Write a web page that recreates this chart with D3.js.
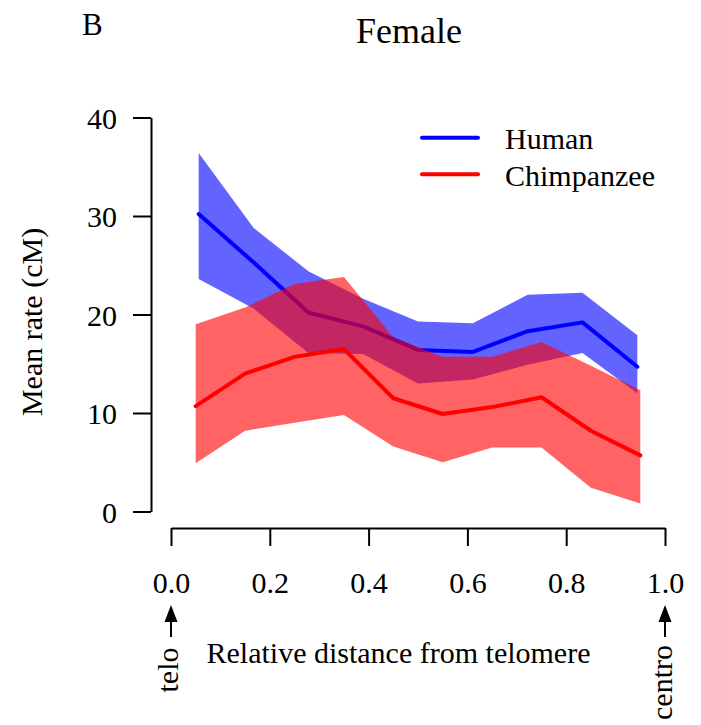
<!DOCTYPE html>
<html lang="en">
<head>
<meta charset="UTF-8">
<title>Female</title>
<script src="https://cdn.jsdelivr.net/npm/d3@7/dist/d3.min.js"></script>
<style>
  body { margin: 0; background: #fff; }
  text { font-family: "Liberation Serif", "Times New Roman", serif; fill: #000; }
</style>
</head>
<body>
<div id="chart"></div>
<script>
// bin midpoints (relative distance from telomere)
const humanX = [0.056, 0.167, 0.278, 0.389, 0.5, 0.611, 0.722, 0.833, 0.944];
const humanMean = [30.2, 25.3, 20.2, 18.8, 16.4, 16.2, 18.3, 19.2, 14.7];
const humanUpper = [36.4, 28.8, 24.4, 21.6, 19.3, 19.1, 22.0, 22.2, 17.9];
const humanLower = [23.6, 20.6, 16.1, 16.0, 13.0, 13.4, 14.9, 16.1, 12.0];

const chimpX = [0.05, 0.15, 0.25, 0.35, 0.45, 0.55, 0.65, 0.75, 0.85, 0.95];
const chimpMean = [10.7, 14.0, 15.7, 16.5, 11.5, 9.9, 10.6, 11.6, 8.2, 5.7];
const chimpUpper = [19.0, 20.7, 23.1, 23.8, 17.7, 15.7, 15.7, 17.2, 14.8, 12.3];
const chimpLower = [4.9, 8.2, 9.0, 9.8, 6.6, 5.0, 6.5, 6.5, 2.4, 0.8];

const xTicks = [0, 0.2, 0.4, 0.6, 0.8, 1.0];
const yTicks = [0, 10, 20, 30, 40];
const seriesNames = ["Human", "Chimpanzee"];

var width = 701, height = 725;
var fs = 30;

var svg = d3.select("#chart").append("svg")
    .attr("width", width)
    .attr("height", height);

var x = d3.scaleLinear().domain([0, 1]).range([171, 665]);
var y = d3.scaleLinear().domain([0, 40]).range([511.5, 117.5]);

function rows(xs, m, lo, hi) {
    return xs.map(function(v, i) { return {x: v, m: m[i], lo: lo[i], hi: hi[i]}; });
}
var human = rows(humanX, humanMean, humanLower, humanUpper);
var chimp = rows(chimpX, chimpMean, chimpLower, chimpUpper);

var band = d3.area()
    .x(function(d) { return x(d.x); })
    .y0(function(d) { return y(d.lo); })
    .y1(function(d) { return y(d.hi); });
var line = d3.line()
    .x(function(d) { return x(d.x); })
    .y(function(d) { return y(d.m); });

// blue first, red drawn over it
svg.append("path").attr("d", band(human)).attr("fill", "#0000ff").attr("fill-opacity", 0.61);
svg.append("path").attr("d", line(human)).attr("fill", "none").attr("stroke", "#0000ff")
    .attr("stroke-width", 4).attr("stroke-linejoin", "round").attr("stroke-linecap", "round");
svg.append("path").attr("d", band(chimp)).attr("fill", "#ff0000").attr("fill-opacity", 0.61);
svg.append("path").attr("d", line(chimp)).attr("fill", "none").attr("stroke", "#ff0000")
    .attr("stroke-width", 4).attr("stroke-linejoin", "round").attr("stroke-linecap", "round");

// axes
var yAxis = svg.append("g")
    .attr("transform", "translate(151,0)")
    .call(d3.axisLeft(y).tickValues(yTicks).tickSize(18).tickSizeOuter(0).tickPadding(16)
        .tickFormat(d3.format("d")));
var xAxis = svg.append("g")
    .attr("transform", "translate(0,528)")
    .call(d3.axisBottom(x).tickValues(xTicks).tickSize(18).tickSizeOuter(0).tickPadding(26)
        .tickFormat(d3.format(".1f")));
[yAxis, xAxis].forEach(function(a) {
    a.selectAll("path, line").attr("stroke", "#000").attr("stroke-width", 2);
    a.selectAll("text").attr("font-size", fs + "px")
        .attr("font-family", "'Liberation Serif', 'Times New Roman', serif").attr("fill", "#000");
});
yAxis.selectAll("text").attr("dy", "0.36em");

// labels
svg.append("text").attr("x", 82).attr("y", 35).attr("font-size", "31px").text("B");
svg.append("text").attr("x", 409).attr("y", 42.5).attr("text-anchor", "middle")
    .attr("font-size", "36px").text("Female");
svg.append("text").attr("x", 398.5).attr("y", 663).attr("text-anchor", "middle")
    .attr("font-size", fs + "px").text("Relative distance from telomere");
svg.append("text").attr("transform", "translate(41.5,322) rotate(-90)")
    .attr("text-anchor", "middle").attr("font-size", fs + "px").text("Mean rate (cM)");

// telo / centro arrows
var ends = [{v: 0, label: "telo", cy: 670}, {v: 1, label: "centro", cy: 682.5}];
ends.forEach(function(e) {
    var cx = x(e.v);
    svg.append("line").attr("x1", cx).attr("x2", cx).attr("y1", 637).attr("y2", 615)
        .attr("stroke", "#000").attr("stroke-width", 2);
    svg.append("path")
        .attr("d", "M" + cx + ",605L" + (cx - 6.5) + ",622L" + (cx + 6.5) + ",622Z")
        .attr("fill", "#000");
    svg.append("text").attr("transform", "translate(" + (cx + 6.5) + "," + e.cy + ") rotate(-90)")
        .attr("text-anchor", "middle").attr("font-size", fs + "px").text(e.label);
});

// legend
var legendColors = ["#0000ff", "#ff0000"];
var leg = svg.append("g");
seriesNames.forEach(function(name, i) {
    var ly = 137.7 + i * 36.5;
    leg.append("line").attr("x1", 422).attr("x2", 478).attr("y1", ly).attr("y2", ly)
        .attr("stroke", legendColors[i]).attr("stroke-width", 4).attr("stroke-linecap", "round");
    leg.append("text").attr("x", 505).attr("y", ly + 11.3).attr("font-size", fs + "px").text(name);
});
</script>
</body>
</html>
